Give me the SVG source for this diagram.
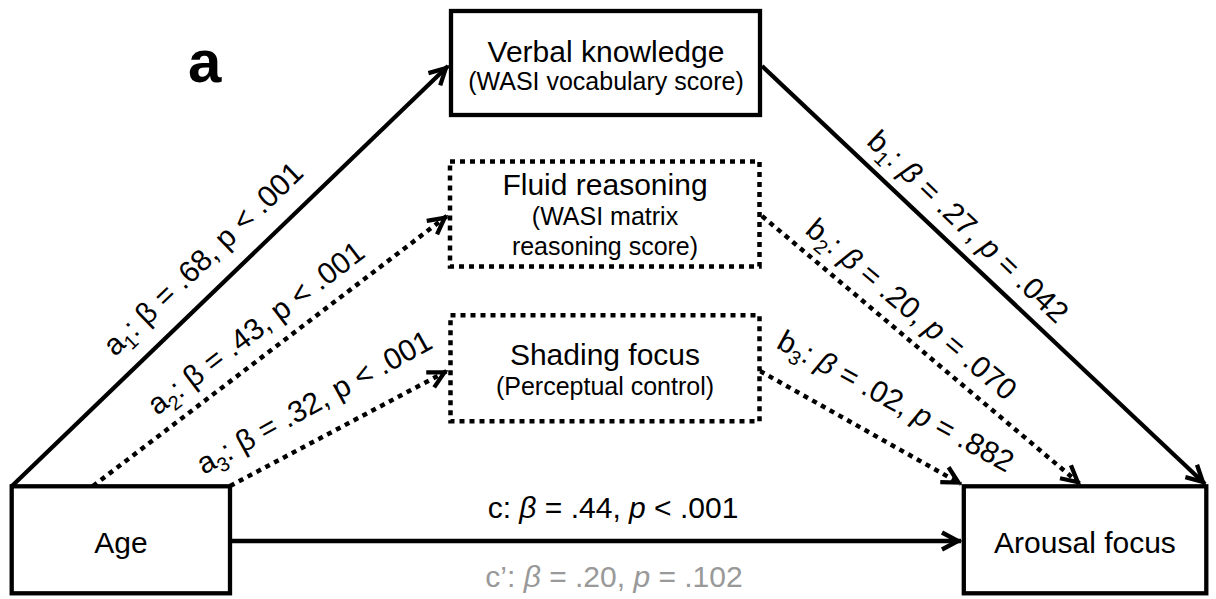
<svg xmlns="http://www.w3.org/2000/svg" width="1216" height="599" viewBox="0 0 1216 599">
<style>
text{font-family:"Liberation Sans",Arial,Helvetica,sans-serif;fill:#000}
.big{font-size:30px}
.small{font-size:25px}
.lbl{font-size:30px;text-anchor:middle}
.ctr{text-anchor:middle}
.it{font-style:italic}
.box{fill:#fff;stroke:#000;stroke-width:4.3}
.dbox{fill:#fff;stroke:#000;stroke-width:4.5;stroke-dasharray:5 5}
.ln{fill:none;stroke:#000;stroke-width:4.3}
.dl{fill:none;stroke:#000;stroke-width:4.5;stroke-dasharray:5 5}
</style>
<defs>
<marker id="ah" viewBox="0 0 26 22" refX="22" refY="11" markerWidth="26" markerHeight="22" markerUnits="userSpaceOnUse" orient="auto">
<path d="M3,2.5 L19,11 L3,19.5" fill="none" stroke="#000" stroke-width="4.3" stroke-dasharray="none"/>
</marker>
</defs>
<rect width="1216" height="599" fill="#fff"/>
<text x="188" y="82" style="font-size:60px;font-weight:bold">a</text>
<g id="connectors">
<line class="ln" x1="12" y1="486" x2="448" y2="66" marker-end="url(#ah)"/>
<line class="dl" x1="93" y1="486" x2="447" y2="216" marker-end="url(#ah)"/>
<line class="dl" x1="230" y1="486" x2="447" y2="371" marker-end="url(#ah)"/>
<line class="ln" x1="762" y1="66" x2="1205" y2="484" marker-end="url(#ah)"/>
<line class="dl" x1="762" y1="216" x2="1080" y2="484" marker-end="url(#ah)"/>
<line class="dl" x1="760" y1="371" x2="961" y2="484" marker-end="url(#ah)"/>
<line class="ln" x1="232" y1="541" x2="961" y2="541" marker-end="url(#ah)"/>
<text class="lbl" transform="translate(210,266) rotate(-43.8)">a<tspan font-size="20" dy="7">1</tspan><tspan dy="-7">: β = .68, p &lt; .001</tspan></text>
<text class="lbl" transform="translate(262,336) rotate(-37.4)">a<tspan font-size="20" dy="7">2</tspan><tspan dy="-7">: β = .43, p &lt; .001</tspan></text>
<text class="lbl" transform="translate(319,411) rotate(-29)">a<tspan font-size="20" dy="7">3</tspan><tspan dy="-7">: β = .32, p &lt; .001</tspan></text>
<text class="lbl" transform="translate(961,234) rotate(43.5)">b<tspan font-size="20" dy="7">1</tspan><tspan dy="-7">: </tspan><tspan class="it">β</tspan> = .27, <tspan class="it">p</tspan> = .042</text>
<text class="lbl" transform="translate(905,317) rotate(40)">b<tspan font-size="20" dy="7">2</tspan><tspan dy="-7">: </tspan><tspan class="it">β</tspan> = .20, <tspan class="it">p</tspan> = .070</text>
<text class="lbl" transform="translate(891,410) rotate(28.5)">b<tspan font-size="20" dy="7">3</tspan><tspan dy="-7">: </tspan><tspan class="it">β</tspan> = .02, <tspan class="it">p</tspan> = .882</text>
<text class="lbl" x="613" y="518">c: <tspan class="it">β</tspan> = .44, <tspan class="it">p</tspan> &lt; .001</text>
<text class="lbl" x="614" y="587" style="fill:#999">c’: <tspan class="it" style="fill:#999">β</tspan> = .20, <tspan class="it" style="fill:#999">p</tspan> = .102</text>
</g>
<g id="verbal">
<rect class="box" x="451" y="11" width="309" height="104"/>
<text class="big ctr" x="606" y="62">Verbal knowledge</text>
<text class="small ctr" x="606" y="90">(WASI vocabulary score)</text>
</g>
<g id="fluid">
<rect class="dbox" x="450" y="161.5" width="309.5" height="105"/>
<text class="big ctr" x="605" y="195">Fluid reasoning</text>
<text class="small ctr" x="605" y="225">(WASI matrix</text>
<text class="small ctr" x="605" y="255">reasoning score)</text>
</g>
<g id="shading">
<rect class="dbox" x="450.5" y="315.3" width="309" height="106"/>
<text class="big ctr" x="605" y="365">Shading focus</text>
<text class="small ctr" x="605" y="395">(Perceptual control)</text>
</g>
<g id="age">
<rect class="box" x="11.7" y="486.3" width="218.3" height="107"/>
<text class="big ctr" x="121" y="553">Age</text>
</g>
<g id="arousal">
<rect class="box" x="963.8" y="486.3" width="242.5" height="107"/>
<text class="big ctr" x="1085" y="553">Arousal focus</text>
</g>
</svg>
